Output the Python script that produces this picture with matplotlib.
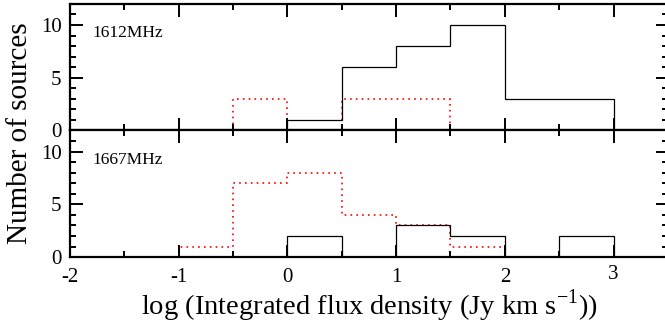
import matplotlib.pyplot as plt
from matplotlib.ticker import MultipleLocator
from matplotlib.transforms import ScaledTranslation

plt.rcParams["font.family"] = ["Liberation Serif", "DejaVu Serif"]
plt.rcParams["mathtext.fontset"] = "custom"
plt.rcParams["mathtext.rm"] = "Liberation Serif"
plt.rcParams["axes.unicode_minus"] = False

# bin edges (log flux density) and counts
EDGES_1612_BLACK = [0, 0.5, 1, 1.5, 2, 2.5, 3]
COUNTS_1612_BLACK = [1, 6, 8, 10, 3, 3]
EDGES_1612_RED = [-0.5, 0, 0.5, 1, 1.5]
COUNTS_1612_RED = [3, 0, 3, 3]

EDGES_1667_BLACK = [0, 0.5, 1, 1.5, 2, 2.5, 3]
COUNTS_1667_BLACK = [2, 0, 3, 2, 0, 2]
EDGES_1667_RED = [-1, -0.5, 0, 0.5, 1, 1.5, 2]
COUNTS_1667_RED = [1, 7, 8, 4, 3, 1]

X_TICKS = [-2, -1, 0, 1, 2, 3]

PANELS = [
    ("1612MHz", EDGES_1612_BLACK, COUNTS_1612_BLACK, EDGES_1612_RED, COUNTS_1612_RED),
    ("1667MHz", EDGES_1667_BLACK, COUNTS_1667_BLACK, EDGES_1667_RED, COUNTS_1667_RED),
]

fig, axes = plt.subplots(2, 1, figsize=(6.65, 3.25), dpi=100, sharex=True)
fig.subplots_adjust(left=0.105, right=1.0045, top=0.988, bottom=0.209, hspace=0)

for ax, (label, eb, cb, er, cr) in zip(axes, PANELS):
    ax.stairs(cr, er, color="red", linestyle=(0, (1, 2.5)), linewidth=1.2)
    ax.stairs(cb, eb, color="black", linewidth=0.9)
    ax.set_xlim(-2, 3.5)
    ax.set_ylim(0, 12)
    ax.xaxis.set_major_locator(MultipleLocator(1))
    ax.xaxis.set_minor_locator(MultipleLocator(0.5))
    ax.yaxis.set_major_locator(MultipleLocator(5))
    ax.yaxis.set_minor_locator(MultipleLocator(1))
    ax.tick_params(which="both", direction="in", top=True, right=True, labelsize=15, width=1.4)
    ax.tick_params(which="major", length=9)
    ax.tick_params(which="minor", length=4.5)
    ax.tick_params(axis="x", pad=8)
    ax.tick_params(axis="y", pad=6)
    for s in ax.spines.values():
        s.set_linewidth(1.6)
    ax.text(0.037, 0.77, label, transform=ax.transAxes, fontsize=12.5, va="center")

axes[0].tick_params(labelbottom=False)
axes[1].set_xticks(X_TICKS)
axes[1].set_xlabel(r"log (Integrated flux density (Jy km s$^{-1}$))", fontsize=20.5, labelpad=0)
fig.text(0.03, 0.59, "Number of sources", rotation=90, fontsize=21, va="center", ha="center")

# the "3" label sits a little higher in the original figure
fig.canvas.draw()
lbl = axes[1].get_xticklabels()[-1]
lbl.set_transform(lbl.get_transform() + ScaledTranslation(0, 3 / 100, fig.dpi_scale_trans))

plt.savefig("out.png", dpi=100)
